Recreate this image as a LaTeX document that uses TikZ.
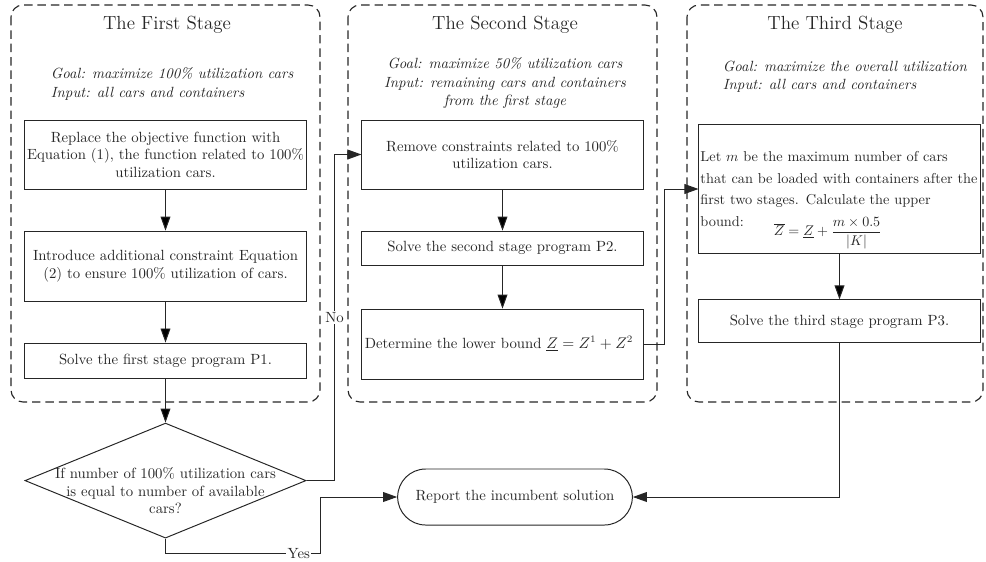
\documentclass[tikz,border=0pt]{standalone}
\usepackage{amsmath}
\usetikzlibrary{positioning, shapes.geometric, shapes.misc, arrows.meta}

\begin{document}
\begin{tikzpicture}[
    x=0.025cm, y=-0.025cm,
    on grid,
    font=\fontsize{10.5}{12.5}\selectfont,
    every node/.style={text=black!85},
    box/.style={draw=black!85, line width=0.7pt, minimum width=7.025cm, align=center, inner sep=2pt},
    decision/.style={diamond, draw=black!85, line width=0.7pt, minimum width=7.025cm, minimum height=2.875cm, inner sep=0pt},
    terminal/.style={rounded rectangle, draw=black!85, line width=0.7pt, minimum width=6.1cm, minimum height=1.4cm},
    stageframe/.style={draw=black!85, line width=0.8pt, dash pattern=on 6pt off 3.5pt, rounded corners=0.3cm},
    title/.style={font=\fontsize{13.5}{16}\selectfont},
    goal/.style={font=\fontsize{10.5}{13}\selectfont\itshape},
    arr/.style={draw=black!85, line width=0.7pt, -{Triangle[length=10pt, width=7pt]}},
    lbl/.style={fill=white, inner sep=1pt}
]
   \useasboundingbox (0,0) rectangle (986,561);

   % Stage frames
   \draw[stageframe] (11,5) rectangle (320,402);
   \draw[stageframe] (348,5) rectangle (657,402);
   \draw[stageframe] (687,5) rectangle (983,402);

   % Titles and goals
   \node[title] (t1) at (167,25) {The First Stage};
   \node[title] (t2) at (505,25) {The Second Stage};
   \node[title] (t3) at (835,25) {The Third Stage};
   \node[goal, align=left, anchor=west] (g1) at (46,84) {Goal: maximize 100\% utilization cars\\Input: all cars and containers};
   \node[goal, align=center] (g2) at (505,83) {Goal: maximize 50\% utilization cars\\Input: remaining cars and containers\\from the first stage};
   \node[goal, align=left, anchor=west] (g3) at (718,77) {Goal: maximize the overall utilization\\Input: all cars and containers};

   % First stage
   \node[box, minimum height=1.725cm] (b1) at (165.5,154.5) {Replace the objective function with\\Equation (1), the function related to 100\%\\utilization cars.};
   \node[box, minimum height=1.75cm, below=2.79cm of b1] (b2) {Introduce additional constraint Equation\\(2) to ensure 100\% utilization of cars.};
   \node[box, minimum height=0.875cm, below=2.36cm of b2] (b3) {Solve the first stage program P1.};
   \node[decision, below=3cm of b3, label={[align=center, yshift=-0.25cm]center:{If number of 100\% utilization cars\\is equal to number of available\\cars?}}] (dec) {};

   % Second stage
   \node[box, minimum height=1.725cm] (b4) at (502.5,154.5) {Remove constraints related to 100\%\\utilization cars.};
   \node[box, minimum height=0.85cm, below=2.34cm of b4] (b5) {Solve the second stage program P2.};
   \node[box, minimum height=1.75cm, text width=6.88cm, align=left, below=2.4cm of b5] (b6) {Determine the lower bound $\underline{Z} = Z^1 + Z^2$};

   % Third stage
   \node[box, minimum height=3.2cm, inner xsep=1pt, text width=6.95cm, align=left, font=\fontsize{10.2}{15.6}\selectfont] (b7) at (839.5,189) {Let $m$ be the maximum number of cars\\that can be loaded with containers after the\\first two stages. Calculate the upper\\bound:\hspace{0.75cm}\raisebox{-1.4ex}[1ex][0pt]{$\overline{Z} = \underline{Z} + \dfrac{m\times 0.5}{|K|}$}};
   \node[box, minimum height=1.075cm, below=3.31cm of b7] (b8) {Solve the third stage program P3.};

   \node[terminal] (term) at (515,497) {Report the incumbent solution};

   % Transitions
   \path[arr]
   (b1) edge (b2)
   (b2) edge (b3)
   (b3) edge (dec)
   (b4) edge (b5)
   (b5) edge (b6)
   (b7) edge (b8);

   \draw[arr] (dec.east) -- ++(28,0) |- node[lbl, pos=0.25] {No} (b4.west);
   \draw[arr] (dec.south) |- node[lbl, pos=0.93] {Yes} ++(155,15) |- (term.west);
   \draw[arr] (b6.east) -- ++(21,0) |- (b7.west);
   \draw[arr] (b8.south) |- (term.east);
\end{tikzpicture}
\end{document}
